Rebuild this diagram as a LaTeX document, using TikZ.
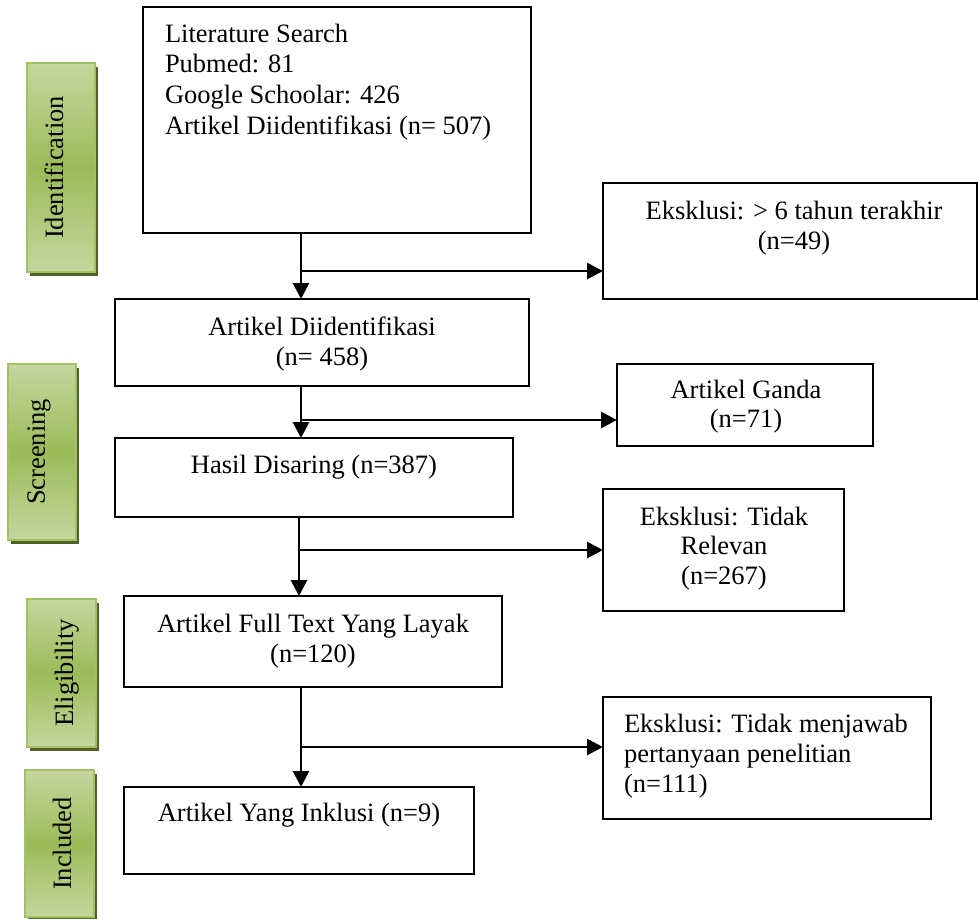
\documentclass[tikz,border=0pt]{standalone}
\usepackage{fontspec}
\setmainfont{Liberation Serif}
\usetikzlibrary{arrows.meta,shadows}
\definecolor{glight}{HTML}{C4D79E}
\definecolor{gmid}{HTML}{9BBB59}
\definecolor{gborder}{HTML}{A3C163}
\definecolor{gshadow}{HTML}{4F6228}
\newcommand\ctext[2]{\vtop{\baselineskip=#1pt\halign{\hfil##\hfil\cr#2\crcr}}}
\newcommand\ltext[2]{\vtop{\baselineskip=#1pt\halign{##\hfil\cr#2\crcr}}}
\begin{document}
\begin{tikzpicture}[x=1pt,y=-1pt,
  font=\fontsize{26.5}{30.5}\selectfont,
  flowbox/.style={draw=black, line width=1.8pt, rectangle, inner sep=0pt, outer sep=0pt, fill=white},
  boxtext/.style={inner sep=0pt, outer sep=0pt},
  phase/.style={rectangle, inner sep=0pt, outer sep=0pt, draw=gborder, line width=1.5pt,
    shading=axis, top color=glight, bottom color=glight, middle color=gmid,
    general shadow={fill=gshadow, shadow xshift=3pt, shadow yshift=-3.5pt}},
  phasetext/.style={inner sep=0pt, outer sep=0pt, rotate=90, anchor=base},
  flow/.style={line width=2.8pt, -{Triangle[length=16pt,width=16pt]}}]
\useasboundingbox (0,0) rectangle (978,919);

% phase labels
\node[phase, minimum width=68pt, minimum height=209pt] (p1) at (61,167.5) {};
\node[phasetext] (p1t) at (63,167.5) {Identification};
\node[phase, minimum width=68pt, minimum height=176pt] (p2) at (42,452) {};
\node[phasetext] (p2t) at (45,452) {Screening};
\node[phase, minimum width=69pt, minimum height=148pt] (p3) at (61.5,673) {};
\node[phasetext] (p3t) at (73,673) {Eligibility};
\node[phase, minimum width=69pt, minimum height=147pt] (p4) at (59.5,843.5) {};
\node[phasetext] (p4t) at (71,843.5) {Included};

% main column
\node[flowbox, minimum width=388pt, minimum height=226pt] (b1) at (337,120) {};
\node[boxtext, anchor=base west] (b1t) at (165,42)
  {\ltext{30.7}{Literature Search\cr Pubmed: 81\cr Google Schoolar: 426\cr Artikel Diidentifikasi (n= 507)}};
\node[flowbox, minimum width=414pt, minimum height=87pt] (b2) at (322,342.5) {};
\node[boxtext, anchor=base] (b2t) at (322,335) {\ctext{30}{Artikel Diidentifikasi\cr (n= 458)}};
\node[flowbox, minimum width=398pt, minimum height=79pt] (b3) at (314,477.5) {};
\node[boxtext, anchor=base] (b3t) at (314,473) {Hasil Disaring (n=387)};
\node[flowbox, minimum width=378pt, minimum height=91pt] (b4) at (313,641.5) {};
\node[boxtext, anchor=base] (b4t) at (313,632) {\ctext{30}{Artikel Full Text Yang Layak\cr (n=120)}};
\node[flowbox, minimum width=350pt, minimum height=87pt] (b5) at (299,830.5) {};
\node[boxtext, anchor=base] (b5t) at (299,821) {Artikel Yang Inklusi (n=9)};

% exclusion column
\node[flowbox, minimum width=374pt, minimum height=116pt] (r1) at (790,241) {};
\node[boxtext, anchor=base] (r1t) at (794,219) {\ctext{30.5}{Eksklusi: > 6 tahun terakhir\cr (n=49)}};
\node[flowbox, minimum width=256pt, minimum height=82pt] (r2) at (745,405) {};
\node[boxtext, anchor=base] (r2t) at (746,398) {\ctext{29}{Artikel Ganda\cr (n=71)}};
\node[flowbox, minimum width=241pt, minimum height=122pt] (r3) at (723.5,550) {};
\node[boxtext, anchor=base] (r3t) at (724,525) {\ctext{29.5}{Eksklusi: Tidak\cr Relevan\cr (n=267)}};
\node[flowbox, minimum width=328pt, minimum height=122pt] (r4) at (767,758) {};
\node[boxtext, anchor=base west] (r4t) at (624,732) {\ltext{30}{Eksklusi: Tidak menjawab\cr pertanyaan penelitian\cr (n=111)}};

% junctions
\coordinate (j1) at (301,271);
\coordinate (j2) at (301,420);
\coordinate (j3) at (299,550);
\coordinate (j4) at (301,747);

% connectors
\draw[flow] (b1.south -| j1) -- (b2.north -| j1);
\draw[flow] (j1) -- (r1.west |- j1);
\draw[flow] (b2.south -| j2) -- (b3.north -| j2);
\draw[flow] (j2) -- (r2.west |- j2);
\draw[flow] (b3.south -| j3) -- (b4.north -| j3);
\draw[flow] (j3) -- (r3.west |- j3);
\draw[flow] (b4.south -| j4) -- (b5.north -| j4);
\draw[flow] (j4) -- (r4.west |- j4);
\end{tikzpicture}
\end{document}
